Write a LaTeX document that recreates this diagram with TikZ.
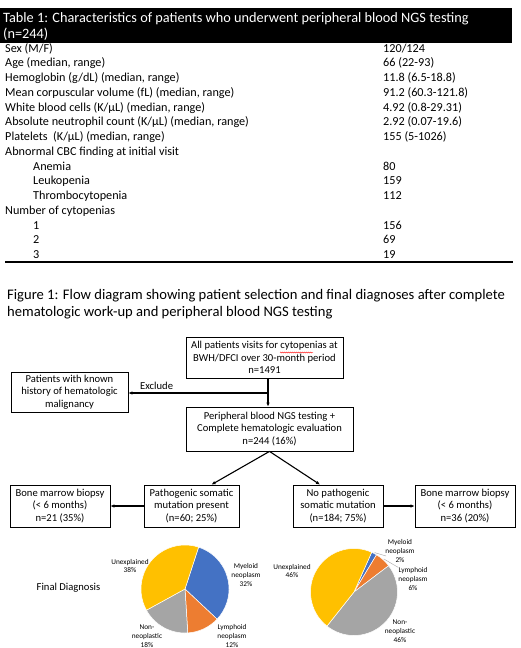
\documentclass[tikz,border=0pt]{standalone}
\usepackage{fontspec}
\setmainfont{Carlito}
\usetikzlibrary{arrows.meta,calc,decorations.pathmorphing}
\definecolor{pblue}{HTML}{4472C4}
\definecolor{porange}{HTML}{ED7D31}
\definecolor{pgray}{HTML}{A5A5A5}
\definecolor{pyellow}{HTML}{FFC000}
\begin{document}
\begin{tikzpicture}[x=1pt,y=-1pt,
 box/.style={draw,line width=0.8pt,align=center,inner sep=0pt,font=\fontsize{10.6}{12.5}\selectfont},
 arr/.style={line width=1.1pt,-{Latex[length=4pt,width=3.5pt]}},
 tl/.style={anchor=base west,inner sep=0pt,font=\fontsize{12.2}{14}\selectfont},
 hd/.style={anchor=base west,inner sep=0pt,text=white,font=\fontsize{14.3}{16}\selectfont},
 captxt/.style={anchor=base west,inner sep=0pt,font=\fontsize{14.6}{16}\selectfont},
 pl/.style={align=center,inner sep=0pt,font=\fontsize{7.3}{8.8}\selectfont},
 slice/.style={draw=white,line width=0.5pt},
 lead/.style={draw=pgray,line width=0.4pt},
]
\useasboundingbox[fill=white] (0,0) rectangle (520,648);
% ---------- Table ----------
\fill[black] (0,8) rectangle (512,43);
\node[hd] (t1) at (3,22) {Table 1: Characteristics of patients who underwent peripheral blood NGS testing};
\node[hd] (t2) at (3,38.5) {(n=244)};
\node[tl] (r1) at (5,52) {Sex (M/F)};                                  \node[tl] (v1) at (383,52) {120/124};
\node[tl] (r2) at (5,66.75) {Age (median, range)};                     \node[tl] (v2) at (383,66.75) {66 (22-93)};
\node[tl] (r3) at (5,81.5) {Hemoglobin (g/dL) (median, range)};        \node[tl] (v3) at (383,81.5) {11.8 (6.5-18.8)};
\node[tl] (r4) at (5,96.25) {Mean corpuscular volume (fL) (median, range)}; \node[tl] (v4) at (383,96.25) {91.2 (60.3-121.8)};
\node[tl] (r5) at (5,111) {White blood cells (K/µL) (median, range)};  \node[tl] (v5) at (383,111) {4.92 (0.8-29.31)};
\node[tl] (r6) at (5,125.75) {Absolute neutrophil count (K/µL) (median, range)}; \node[tl] (v6) at (383,125.75) {2.92 (0.07-19.6)};
\node[tl] (r7) at (5,140.5) {Platelets\ \ (K/µL) (median, range)};     \node[tl] (v7) at (383,140.5) {155 (5-1026)};
\node[tl] (r8) at (5,155.25) {Abnormal CBC finding at initial visit};
\node[tl] (r9) at (33,170) {Anemia};                                   \node[tl] (v9) at (383,170) {80};
\node[tl] (r10) at (33,184.75) {Leukopenia};                           \node[tl] (v10) at (383,184.75) {159};
\node[tl] (r11) at (33,199.5) {Thrombocytopenia};                      \node[tl] (v11) at (383,199.5) {112};
\node[tl] (r12) at (5,214.25) {Number of cytopenias};
\node[tl] (r13) at (33,229) {1};                                       \node[tl] (v13) at (383,229) {156};
\node[tl] (r14) at (33,243.75) {2};                                    \node[tl] (v14) at (383,243.75) {69};
\node[tl] (r15) at (33,258.5) {3};                                     \node[tl] (v15) at (383,258.5) {19};
\draw[line width=1.8pt] (5,261.8) -- (513,261.8);
% ---------- Caption ----------
\node[captxt] (c1) at (7,299.5) {Figure 1: Flow diagram showing patient selection and final diagnoses after complete};
\node[captxt] (c2) at (7,316.5) {hematologic work-up and peripheral blood NGS testing};
% ---------- Flow ----------
\node[box,minimum width=157pt,minimum height=41pt] (A) at (264.5,357.5) {All patients visits for cytopenias at\\BWH/DFCI over 30-month period\\n=1491};
\draw[red,line width=0.4pt,decorate,decoration={snake,amplitude=0.5pt,segment length=2pt}] (280,352.5) -- (313,352.5);
\node[box,minimum width=117pt,minimum height=40pt] (X) at (69.5,392) {Patients with known\\history of hematologic\\malignancy};
\node[box,minimum width=167pt,minimum height=44pt] (B) at (269.5,429) {Peripheral blood NGS testing +\\Complete hematologic evaluation\\n=244 (16\%)};
\node[box,minimum width=95pt,minimum height=42pt] (C) at (191.5,506) {Pathogenic somatic\\mutation present\\(n=60; 25\%)};
\node[box,minimum width=100pt,minimum height=42pt] (L) at (60,506) {Bone marrow biopsy\\(< 6 months)\\n=21 (35\%)};
\node[box,minimum width=90pt,minimum height=42pt] (D) at (338,506) {No pathogenic\\somatic mutation\\(n=184; 75\%)};
\node[box,minimum width=100pt,minimum height=42pt] (R) at (465,506) {Bone marrow biopsy\\(< 6 months)\\n=36 (20\%)};
\coordinate (j) at (268,393);
\draw[arr] (j |- A.south) -- (j |- B.north);
\draw[arr] (j) -- (j -| X.east);
\node[anchor=base west,inner sep=0pt,font=\fontsize{10.6}{12}\selectfont] (ex) at (140,389.5) {Exclude};
\draw[arr] (B.south) -- ($(C.north)+(20,0)$);
\draw[arr] (B.south) -- ($(D.north)+(-18,0)$);
\draw[arr] (C.west) -- (L.east);
\draw[arr] (D.east) -- (R.west);
% ---------- Pies ----------
\node[inner sep=0pt,font=\fontsize{10.6}{12}\selectfont] (fd) at (68.5,588) {Final Diagnosis};
\coordinate (P1) at (185,589);
\fill[pblue,slice]   (P1) -- ++(72:44pt) arc[start angle=72,end angle=-43.2,radius=44pt] -- cycle;
\fill[porange,slice] (P1) -- ++(-43.2:44pt) arc[start angle=-43.2,end angle=-86.4,radius=44pt] -- cycle;
\fill[pgray,slice]   (P1) -- ++(-86.4:44pt) arc[start angle=-86.4,end angle=-151.2,radius=44pt] -- cycle;
\fill[pyellow,slice] (P1) -- ++(-151.2:44pt) arc[start angle=-151.2,end angle=-288,radius=44pt] -- cycle;
\node[pl] (l1a) at (130,566) {Unexplained\\38\%};
\node[pl] (l1b) at (246,575) {Myeloid\\neoplasm\\32\%};
\node[pl] (l1c) at (232,636) {Lymphoid\\neoplasm\\12\%};
\node[pl] (l1d) at (147,636) {Non-\\neoplastic\\18\%};
\coordinate (P2) at (354,592);
\fill[pblue,slice]   (P2) -- ++(66:43.5pt) arc[start angle=66,end angle=58.8,radius=43.5pt] -- cycle;
\fill[porange,slice] (P2) -- ++(58.8:43.5pt) arc[start angle=58.8,end angle=37.2,radius=43.5pt] -- cycle;
\fill[pgray,slice]   (P2) -- ++(37.2:43.5pt) arc[start angle=37.2,end angle=-128.4,radius=43.5pt] -- cycle;
\fill[pyellow,slice] (P2) -- ++(-128.4:43.5pt) arc[start angle=-128.4,end angle=-294,radius=43.5pt] -- cycle;
\node[pl] (l2a) at (292,571) {Unexplained\\46\%};
\node[pl] (l2b) at (400,551) {Myeloid\\neoplasm\\2\%};
\node[pl] (l2c) at (413,579) {Lymphoid\\neoplasm\\6\%};
\node[pl] (l2d) at (400,631) {Non-\\neoplastic\\46\%};
\coordinate (k1) at (386,556);
\draw[lead] ($(P2)+(62.4:44.5pt)$) -- (k1);
\draw[lead] ($(P2)+(48:44.5pt)$) -- (l2c.north west);
\end{tikzpicture}
\end{document}
